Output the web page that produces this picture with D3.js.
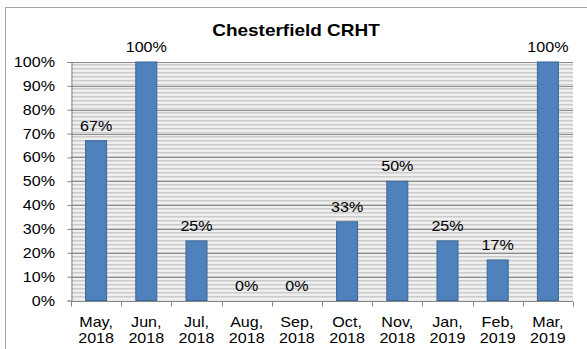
<!DOCTYPE html>
<html>
<head>
<meta charset="utf-8">
<script src="https://cdn.jsdelivr.net/npm/d3@7"></script>
<style>
  html, body { margin: 0; padding: 0; background: #fff; }
  svg { display: block; font-family: "Liberation Sans", Arial, sans-serif; }
</style>
</head>
<body>
<svg id="chart" width="587" height="349"></svg>
<script>
// Monthly share, Chesterfield CRHT
const months = ["May,", "Jun,", "Jul,", "Aug,", "Sep,", "Oct,", "Nov,", "Jan,", "Feb,", "Mar,"];
const years  = ["2018", "2018", "2018", "2018", "2018", "2018", "2018", "2019", "2019", "2019"];
const values = [0.67, 1.00, 0.25, 0.00, 0.00, 0.33, 0.50, 0.25, 0.17, 1.00];
const yTicks = [0, 0.1, 0.2, 0.3, 0.4, 0.5, 0.6, 0.7, 0.8, 0.9, 1.0];

const svg = d3.select("#chart");
const W = 587, H = 349;
const plot = { left: 71, right: 573, top: 62, bottom: 300.5 };
const SX = 1.15; // wide glyph proportions

// text helper: places a horizontally widened label at (x, y)
function label(parent, x, y, txt, opts) {
  const g = parent.append("g").attr("transform", `translate(${x},${y}) scale(${SX},1)`);
  return g.append("text")
    .attr("x", 0).attr("y", 0)
    .attr("text-anchor", opts.anchor || "middle")
    .attr("font-size", opts.size || 14)
    .attr("font-weight", opts.weight || "normal")
    .attr("fill", "#000")
    .text(txt);
}

// chart frame
svg.append("rect")
  .attr("x", 5.5).attr("y", 7.5)
  .attr("width", W + 10).attr("height", H + 10)
  .attr("fill", "#fff").attr("stroke", "#a6a6a6").attr("stroke-width", 1);

const x = d3.scaleBand().domain(d3.range(values.length))
  .range([plot.left, plot.right]).paddingInner(0).paddingOuter(0);
const y = d3.scaleLinear().domain([0, 1]).range([plot.bottom, plot.top]);

// striped plot background
const defs = svg.append("defs");
const pat = defs.append("pattern")
  .attr("id", "stripes").attr("patternUnits", "userSpaceOnUse")
  .attr("x", 0).attr("y", plot.top).attr("width", 8).attr("height", 4);
pat.append("rect").attr("width", 8).attr("height", 4).attr("fill", "#efefef");
pat.append("rect").attr("y", 2).attr("width", 8).attr("height", 1.5).attr("fill", "#cbcbcb");

svg.append("rect")
  .attr("x", plot.left).attr("y", plot.top)
  .attr("width", plot.right - plot.left).attr("height", plot.bottom - plot.top)
  .attr("fill", "url(#stripes)");

// major gridlines
svg.append("g").selectAll("line").data(yTicks.slice(1)).join("line")
  .attr("x1", plot.left).attr("x2", plot.right)
  .attr("y1", d => Math.round(y(d)) + 0.5).attr("y2", d => Math.round(y(d)) + 0.5)
  .attr("stroke", "#8c8c8c").attr("stroke-width", 1);

// bars
const bw = 21;
svg.append("g").selectAll("rect").data(values).join("rect")
  .attr("x", (d, i) => x(i) + x.bandwidth() / 2 - bw / 2)
  .attr("y", d => y(d))
  .attr("width", bw)
  .attr("height", d => y(0) - y(d))
  .attr("fill", "#4f81bd")
  .attr("stroke", "#3a6796").attr("stroke-width", d => d > 0 ? 1 : 0);

// value labels
values.forEach((v, i) => {
  label(svg, x(i) + x.bandwidth() / 2, y(v) - 10, d3.format(".0%")(v), { size: 14 });
});

// y axis
const yAxis = d3.axisLeft(y).tickValues(yTicks).tickFormat(d3.format(".0%")).tickSize(4).tickPadding(3);
const yg = svg.append("g").attr("transform", `translate(${plot.left + 0.5},0)`).call(yAxis);
yg.select(".domain").attr("stroke", "#868686");
yg.selectAll(".tick line").attr("stroke", "#868686");
yg.selectAll(".tick text").remove();
yTicks.forEach(t => label(svg, 55, y(t) + 5, d3.format(".0%")(t), { size: 14, anchor: "end" }));

// x axis with ticks on category boundaries
const xg = svg.append("g").attr("transform", `translate(0,${Math.round(plot.bottom) + 0.5})`);
xg.append("line").attr("x1", plot.left).attr("x2", plot.right).attr("stroke", "#868686");
const bounds = d3.range(values.length + 1).map(i => plot.left + i * x.step());
xg.selectAll("line.tk").data(bounds).join("line").attr("class", "tk")
  .attr("x1", d => Math.round(d) + 0.5).attr("x2", d => Math.round(d) + 0.5)
  .attr("y1", 0).attr("y2", 5).attr("stroke", "#868686");

months.forEach((m, i) => {
  const cx = x(i) + x.bandwidth() / 2;
  label(svg, cx, 327, m, { size: 14 });
  label(svg, cx, 343, years[i], { size: 14 });
});

// title
label(svg, 296, 36, "Chesterfield CRHT", { size: 16.5, weight: "bold" });
</script>
</body>
</html>
